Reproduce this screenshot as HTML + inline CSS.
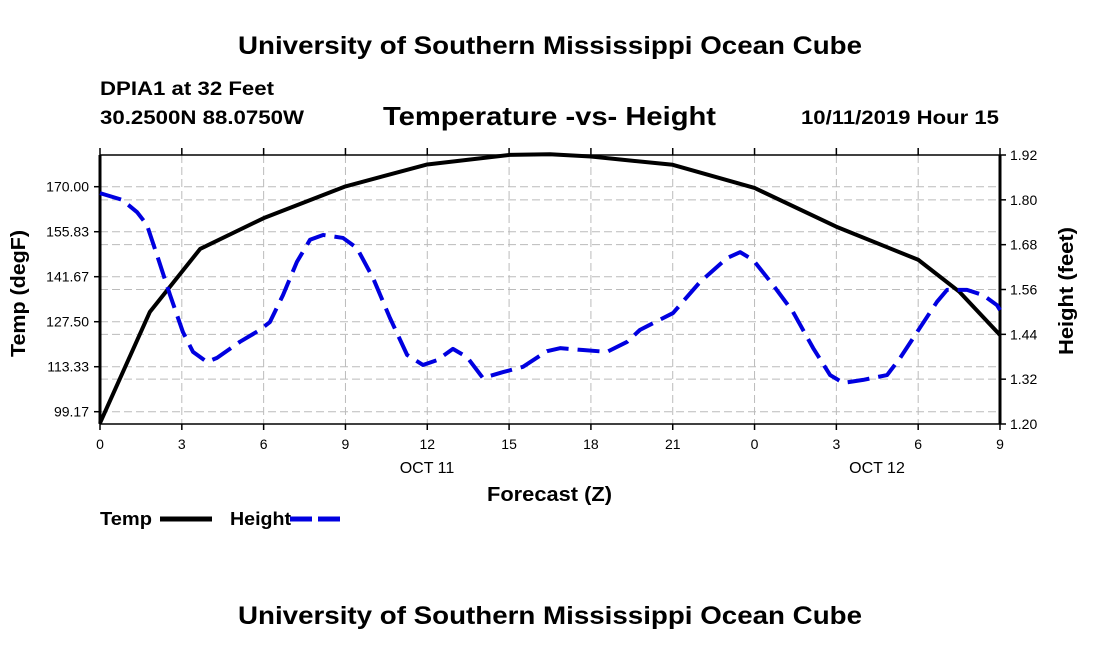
<!DOCTYPE html>
<html><head><meta charset="utf-8"><style>
body{margin:0;background:#fff;width:1100px;height:650px;overflow:hidden}
svg text{font-family:"Liberation Sans",Arial,sans-serif;fill:#000}
</style></head><body>
<svg id="c" width="1100" height="650" xmlns="http://www.w3.org/2000/svg">
<text x="238" y="54" textLength="624" lengthAdjust="spacingAndGlyphs" font-size="25" font-weight="bold">University of Southern Mississippi Ocean Cube</text>
<text x="100" y="95" textLength="174" lengthAdjust="spacingAndGlyphs" font-size="19" font-weight="bold">DPIA1 at 32 Feet</text>
<text x="100" y="124" textLength="204" lengthAdjust="spacingAndGlyphs" font-size="19" font-weight="bold">30.2500N 88.0750W</text>
<text x="383" y="125" textLength="333" lengthAdjust="spacingAndGlyphs" font-size="26" font-weight="bold">Temperature -vs- Height</text>
<text x="801" y="124" textLength="198" lengthAdjust="spacingAndGlyphs" font-size="19" font-weight="bold">10/11/2019 Hour 15</text>
<g id="grid"></g>
<g id="axes"></g>
<g id="series"></g>
<text transform="translate(25,357) rotate(-90)" textLength="127" lengthAdjust="spacingAndGlyphs" font-size="20" font-weight="bold">Temp (degF)</text>
<text transform="translate(1073,355) rotate(-90)" textLength="128" lengthAdjust="spacingAndGlyphs" font-size="20" font-weight="bold">Height (feet)</text>
<text x="487" y="501" textLength="125" lengthAdjust="spacingAndGlyphs" font-size="20" font-weight="bold">Forecast (Z)</text>
<text x="427" y="473" text-anchor="middle" font-size="16">OCT 11</text>
<text x="877" y="473" text-anchor="middle" font-size="16">OCT 12</text>
<g>
<text x="100" y="525" textLength="52" lengthAdjust="spacingAndGlyphs" font-size="18" font-weight="bold">Temp</text>
<line x1="160" y1="519" x2="212" y2="519" stroke="#000" stroke-width="5"/>
<text x="230" y="525" textLength="61" lengthAdjust="spacingAndGlyphs" font-size="18" font-weight="bold">Height</text>
<line x1="290" y1="519" x2="342" y2="519" stroke="#0000e0" stroke-width="5" stroke-dasharray="22,6"/>
</g>
<text x="238" y="624" textLength="624" lengthAdjust="spacingAndGlyphs" font-size="25" font-weight="bold">University of Southern Mississippi Ocean Cube</text>
</svg>
<script>
const xTickLabels=["0","3","6","9","12","15","18","21","0","3","6","9"];
const leftTicks=[99.17,113.33,127.50,141.67,155.83,170.00];
const rightTicks=[1.20,1.32,1.44,1.56,1.68,1.80,1.92];
const tempHours=[0,1.83,3.67,6,9,12,15,16.5,18,21,24,27,30,31.5,33];
const tempValues=[95.6,130.6,150.4,160.1,170.1,177,180,180.2,179.5,176.9,169.6,157.4,147,137,123.3];
const heightHours=[0,0.81,1.36,1.72,2.09,2.57,3.04,3.41,3.92,4.29,5.13,5.87,6.23,6.71,7.22,7.70,8.18,8.91,9.42,10.01,10.63,11.26,11.84,12.36,12.94,13.46,14.04,14.78,15.51,16.39,16.87,17.71,18.59,19.33,19.80,21.01,22.0,22.99,23.47,23.95,24.68,25.41,26.15,26.77,27.25,27.98,28.86,29.34,29.96,30.69,31.06,31.79,32.38,32.89,33];
const heightValues=[1.818,1.80,1.767,1.733,1.652,1.545,1.446,1.393,1.366,1.377,1.42,1.452,1.473,1.545,1.634,1.693,1.706,1.698,1.671,1.591,1.484,1.385,1.358,1.371,1.401,1.379,1.323,1.339,1.353,1.395,1.403,1.398,1.393,1.42,1.452,1.497,1.58,1.644,1.66,1.639,1.572,1.50,1.403,1.331,1.31,1.318,1.331,1.377,1.446,1.527,1.559,1.559,1.545,1.518,1.505];
const L=100,R=1000,T=155,B=424;
const X=h=>L+h/33*(R-L);
const YL=v=>186.7+(170-v)*(225/70.83);
const YR=v=>B-(v-1.20)/0.72*(B-T);
const NS="http://www.w3.org/2000/svg";
function mk(parent,tag,attrs){const e=document.createElementNS(NS,tag);for(const k in attrs)e.setAttribute(k,attrs[k]);document.getElementById(parent).appendChild(e);return e;}
for(let i=1;i<xTickLabels.length-1;i++){const x=X(i*3);
 const g=mk('grid','line',{x1:x,y1:T,x2:x,y2:B,stroke:'#bbb','stroke-width':1,'stroke-dasharray':'8,4'});
 
 }
leftTicks.forEach(v=>{const y=YL(v);const g=mk('grid','line',{x1:L,y1:y,x2:R,y2:y,stroke:'#bbb','stroke-width':1,'stroke-dasharray':'8,4'});
 
 });
rightTicks.forEach(v=>{const y=YR(v);if(y<=T+1||y>=B-1)return;const g=mk('grid','line',{x1:L,y1:y,x2:R,y2:y,stroke:'#bbb','stroke-width':1,'stroke-dasharray':'8,4'});
 
 });
[[L,T,L,B,3],[R,T,R,B,3],[L,B,R,B,1.5],[L,T,R,T,1.5]].forEach(a=>{const e=mk('axes','line',{x1:a[0],y1:a[1],x2:a[2],y2:a[3],stroke:'#000','stroke-width':a[4]});
 
 });
xTickLabels.forEach((t,i)=>{const x=X(i*3);
 const e=mk('axes','line',{x1:x,y1:B,x2:x,y2:B+6,stroke:'#000','stroke-width':1.5});
 
 
 const e2=mk('axes','line',{x1:x,y1:T-7,x2:x,y2:T,stroke:'#000','stroke-width':1.5});
 
 
 const tx=mk('axes','text',{x:x,y:B+25,'text-anchor':'middle','font-size':14});tx.textContent=t;
 
 });
leftTicks.forEach(v=>{const y=YL(v);
 const e=mk('axes','line',{x1:L-6,y1:y,x2:L,y2:y,stroke:'#000','stroke-width':1.5});
 
 
 const tx=mk('axes','text',{x:L-11,y:y+5,'text-anchor':'end','font-size':14});tx.textContent=v.toFixed(2);
 
 });
rightTicks.forEach(v=>{const y=YR(v);
 const e=mk('axes','line',{x1:R,y1:y,x2:R+6,y2:y,stroke:'#000','stroke-width':1.5});
 
 
 const tx=mk('axes','text',{x:R+10,y:y+5,'font-size':14});tx.textContent=v.toFixed(2);
 
 });
const tp=tempHours.map((h,i)=>X(h)+','+YL(tempValues[i])).join(' ');
const tl=mk('series','polyline',{points:tp,fill:'none',stroke:'#000','stroke-width':4,'stroke-linejoin':'round'});


const hp=heightHours.map((h,i)=>X(h)+','+YR(heightValues[i])).join(' ');
const hl=mk('series','polyline',{points:hp,fill:'none',stroke:'#0000e0','stroke-width':4,'stroke-dasharray':'22,9','stroke-linejoin':'round'});


</script>
</body></html>
